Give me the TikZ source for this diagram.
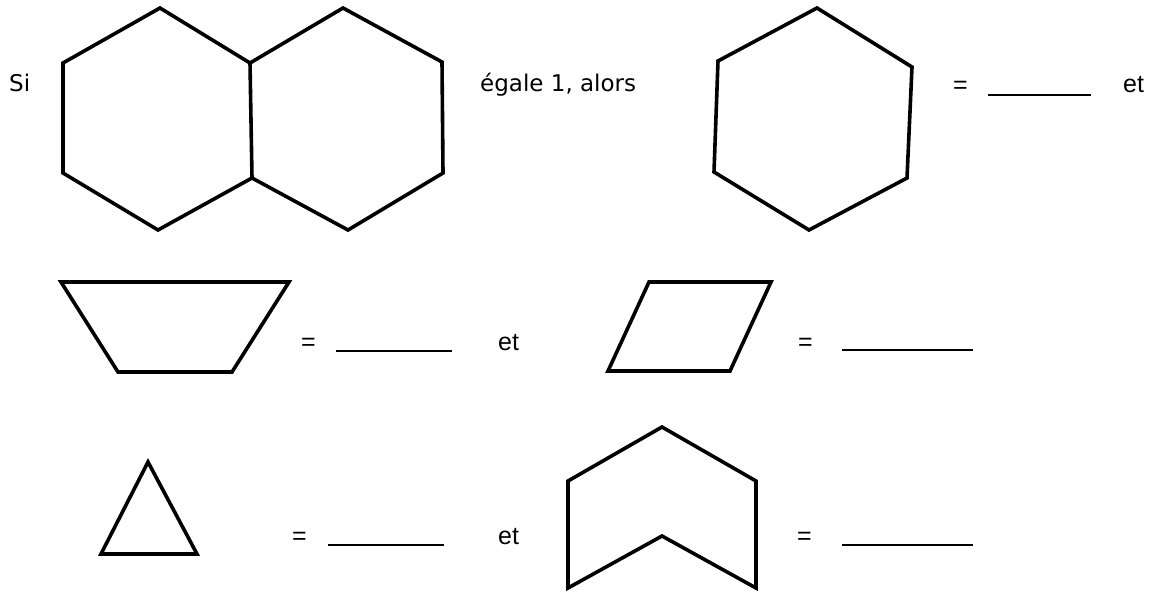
\documentclass[tikz,border=0pt]{standalone}
\usepackage{fontspec}
\setmainfont{Liberation Sans}
\newfontfamily\headfont{DejaVu Sans}
\begin{document}
\begin{tikzpicture}[
    x=1pt, y=-1pt,
    shp/.style={draw, line width=3.6pt, line join=miter},
    lbl/.style={anchor=base west, inner sep=0pt, font=\fontsize{25}{30}\selectfont},
    hlbl/.style={anchor=base west, inner sep=0pt, font=\headfont\fontsize{23}{28}\selectfont},
    blank/.style={line width=1.3pt}
  ]
  \useasboundingbox (0,0) rectangle (1156,591);
  % first line: the two hexagons
  \node[hlbl] (si) at (9,92) {Si};
  \draw[shp] (160,8) -- (250,63) -- (252,178) -- (158,230) -- (63,173) -- (63,63) -- cycle;
  \draw[shp] (250,63) -- (343,8) -- (442,62) -- (443,173) -- (348,230) -- (252,178);
  \node[hlbl] (egale) at (480,92) {égale 1, alors};
  \draw[shp] (817,8) -- (912,67) -- (907,178) -- (809,230) -- (714,172) -- (718,61) -- cycle;
  \node[lbl] (eq1) at (953,94) {=};
  \draw[blank] (988,95) -- (1091,95);
  \node[lbl] (et1) at (1123,93) {et};

  % trapeze and losange
  \draw[shp] (61,282) -- (289,282) -- (232,372) -- (118,372) -- cycle;
  \node[lbl] (eq2) at (301,350) {=};
  \draw[blank] (336,351) -- (452,351);
  \node[lbl] (et2) at (498,350) {et};
  \draw[shp] (649,282) -- (771,282) -- (730,371) -- (608,371) -- cycle;
  \node[lbl] (eq3) at (798,350) {=};
  \draw[blank] (842,350) -- (973,350);

  % triangle and chevron
  \draw[shp] (148,462) -- (197,554) -- (101,554) -- cycle;
  \node[lbl] (eq4) at (292,544) {=};
  \draw[blank] (328,545) -- (444,545);
  \node[lbl] (et3) at (498,544) {et};
  \draw[shp] (662,427) -- (756,481) -- (756,588) -- (662,536) -- (568,588) -- (568,481) -- cycle;
  \node[lbl] (eq5) at (797,544) {=};
  \draw[blank] (842,545) -- (973,545);
\end{tikzpicture}
\end{document}
